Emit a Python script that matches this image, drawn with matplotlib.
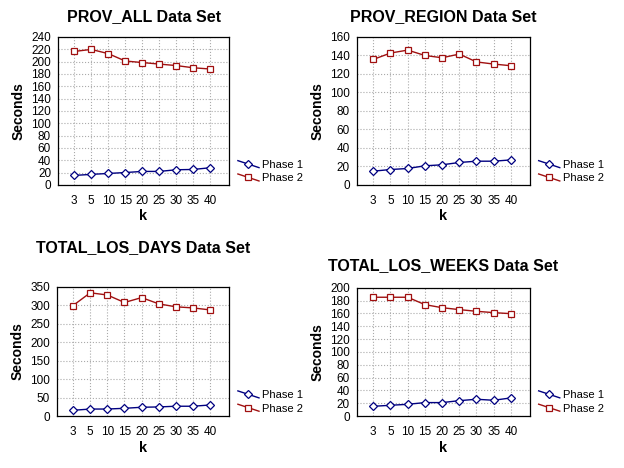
import matplotlib
matplotlib.use("Agg")
import matplotlib.pyplot as plt
from matplotlib.legend_handler import HandlerBase
from matplotlib.lines import Line2D

plt.rcParams['font.family'] = ['Liberation Sans', 'DejaVu Sans']

k_labels = ["3", "5", "10", "15", "20", "25", "30", "35", "40"]

titles = ["PROV_ALL Data Set", "PROV_REGION Data Set",
          "TOTAL_LOS_DAYS Data Set", "TOTAL_LOS_WEEKS Data Set"]

prov_all_p1 = [15.3, 17, 18.5, 20, 21.8, 21.8, 24.5, 25, 27.8]
prov_all_p2 = [216.5, 219.8, 213, 201, 198.5, 196, 193.6, 190, 188]

prov_region_p1 = [14.8, 16.6, 17.7, 20.6, 21.7, 24.2, 25.6, 25.6, 27]
prov_region_p2 = [135.7, 142.6, 145.8, 140, 137.5, 141.5, 133, 130.7, 128.9]

los_days_p1 = [15.6, 19, 19, 21, 23.8, 24.7, 26.6, 26.6, 30]
los_days_p2 = [299.5, 334, 328, 307.7, 321, 304, 296, 293, 287.6]

los_weeks_p1 = [15.2, 16.8, 18.3, 21, 21, 24, 26.2, 24.6, 28.3]
los_weeks_p2 = [185.3, 185.3, 185.3, 173.8, 169, 166, 163.4, 161.3, 159.7]

phase1 = [prov_all_p1, prov_region_p1, los_days_p1, los_weeks_p1]
phase2 = [prov_all_p2, prov_region_p2, los_days_p2, los_weeks_p2]
y_max = [240, 160, 350, 200]
y_step = [20, 20, 50, 20]

# axes rectangles (left, bottom, width, height) in figure fraction
rects = [[0.093, 0.605, 0.274, 0.316],
         [0.572, 0.605, 0.277, 0.316],
         [0.091, 0.111, 0.276, 0.276],
         [0.572, 0.111, 0.277, 0.274]]
title_y = [0.965, 0.965, 0.472, 0.432]


class DiagHandler(HandlerBase):
    # legend key drawn as a slanted line with the marker in the middle
    def create_artists(self, legend, orig, xdescent, ydescent, width,
                       height, fontsize, trans):
        x0, x1 = -xdescent, -xdescent + width
        y0, y1 = -ydescent + height * 0.95, -ydescent + height * 0.05
        line = Line2D([x0, x1], [y0, y1], color=orig.get_color(),
                      lw=orig.get_linewidth(), transform=trans)
        mark = Line2D([(x0 + x1) / 2], [(y0 + y1) / 2], ls="none",
                      marker=orig.get_marker(), ms=orig.get_markersize(),
                      mfc=orig.get_markerfacecolor(),
                      mec=orig.get_markeredgecolor(),
                      mew=orig.get_markeredgewidth(), transform=trans)
        return [line, mark]


fig = plt.figure(figsize=(6.24, 4.68), dpi=100)
blue = "#000080"
red = "#A01010"

for i in range(4):
    ax = fig.add_axes(rects[i])
    x = list(range(len(k_labels)))
    ax.plot(x, phase1[i], color=blue, lw=1, marker="D", ms=3.6,
            mfc="white", mec=blue, mew=0.9, label="Phase 1")
    ax.plot(x, phase2[i], color=red, lw=1, marker="s", ms=4.6,
            mfc="white", mec=red, mew=0.9, label="Phase 2")
    ax.set_xlim(-0.95, 9.1)
    ax.set_ylim(0, y_max[i])
    ax.set_yticks(range(0, y_max[i] + 1, y_step[i]))
    ax.set_xticks(x)
    ax.set_xticklabels(k_labels)
    ax.tick_params(length=0, labelsize=8.5, pad=5)
    ax.tick_params(axis="x", pad=7)
    ax.grid(True, color="#aaaaaa", ls=":", lw=0.8)
    for s in ax.spines.values():
        s.set_linewidth(0.9)
    ax.set_xlabel("k", fontsize=10.5, fontweight="bold", labelpad=2)
    ax.set_ylabel("Seconds", fontsize=10, fontweight="bold", labelpad=4)
    cx = rects[i][0] + rects[i][2] / 2
    fig.text(cx, title_y[i], titles[i], ha="center", va="center",
             fontsize=11.5, fontweight="bold")
    ax.legend(loc="lower left", bbox_to_anchor=(1.0, -0.05), frameon=False,
              fontsize=8, handlelength=1.9, handletextpad=0.3,
              labelspacing=0.3, borderaxespad=0.4,
              handler_map={Line2D: DiagHandler()})

fig.savefig("out.png", dpi=100)
